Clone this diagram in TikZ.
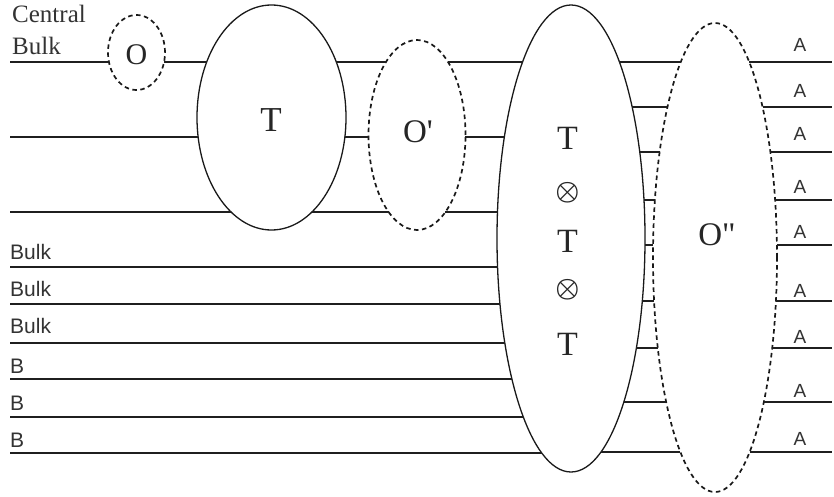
\documentclass[tikz,border=0pt]{standalone}
\usepackage{fontspec}
\setmainfont{Liberation Serif}[Ligatures=TeXOff]
\newfontfamily\labelsans{Liberation Sans}
\usetikzlibrary{shapes.geometric}
% ellipse parameters (pixel units, y downward)
\def\cxo{136.5}\def\cyo{52.5}\def\rxo{28.5}\def\ryo{37.5}
\def\cxt{271.5}\def\cyt{117.5}\def\rxt{74.5}\def\ryt{112.5}
\def\cxp{417}\def\cyp{135}\def\rxp{48.5}\def\ryp{95}
\def\cxm{571}\def\cym{238.5}\def\rxm{74}\def\rym{233.5}
\def\cxq{715}\def\cyq{257.5}\def\rxq{62}\def\ryq{234.5}
\newcommand\bxL[2]{(\csname cx#1\endcsname-\csname rx#1\endcsname*sqrt(1-((#2-\csname cy#1\endcsname)/\csname ry#1\endcsname)^2))}
\newcommand\bxR[2]{(\csname cx#1\endcsname+\csname rx#1\endcsname*sqrt(1-((#2-\csname cy#1\endcsname)/\csname ry#1\endcsname)^2))}
\tikzset{
  oval/.style={draw=black!90, ellipse, line width=1.3pt, inner sep=0pt, outer sep=0pt},
  dashoval/.style={oval, line width=1.7pt, dash pattern=on 4.5pt off 3.5pt},
  wire/.style={draw=black!88, line width=1.3pt},
  sanslab/.style={font=\labelsans\fontsize{21}{24}\selectfont, text=black!80, inner sep=0pt},
  seriflab/.style={font=\fontsize{25}{30}\selectfont, text=black!80, inner sep=0pt},
  biglab/.style={font=\fontsize{#1}{#1}\selectfont, text=black!85, inner sep=0pt},
  symlab/.style={font=\fontsize{10}{12}\selectfont, text=black!85, inner sep=0pt},
}
\begin{document}
\begin{tikzpicture}[x=1pt,y=-1pt]
\useasboundingbox (0,0) rectangle (834,497);
% ellipses
\node[dashoval, minimum width=57pt, minimum height=75pt] (O) at (\cxo,\cyo) {};
\node[oval, minimum width=149pt, minimum height=225pt] (T) at (\cxt,\cyt) {};
\node[dashoval, minimum width=97pt, minimum height=190pt] (Op) at (\cxp,\cyp) {};
\node[oval, minimum width=148pt, minimum height=467pt] (TTT) at (\cxm,\cym) {};
\node[dashoval, minimum width=124pt, minimum height=469pt] (Opp) at (\cxq,\cyq) {};
% ellipse texts
\node[biglab=30] (Otxt) at (136.5,55) {O};
\node[biglab=35] (Ttxt) at (271,120) {T};
\node[biglab=33] (Optxt) at (418,132) {O'};
\node[biglab=34] (m1) at (567.5,138.5) {T};
\node[symlab] (m2) at (567.5,193) {\scalebox{2.7}{\boldmath$\otimes$}};
\node[biglab=34] (m3) at (567.5,241) {T};
\node[symlab] (m4) at (567.5,290) {\scalebox{2.7}{\boldmath$\otimes$}};
\node[biglab=34] (m5) at (567.5,344) {T};
\node[biglab=33] (Opptxt) at (717,235) {O"};
% top line (y=62)
\coordinate (s1) at (10,62);
\coordinate (o1L) at ({\bxL{o}{62}},62);
\coordinate (o1R) at ({\bxR{o}{62}},62);
\draw[wire] (s1) -- (o1L);
\draw[wire] (o1R) -- ({\bxL{t}{62}},62) coordinate (t1L);
% lines through T and O'
\foreach \y [count=\i] in {62,137,212} {
  \coordinate (tL\i) at ({\bxL{t}{\y}},\y);
  \coordinate (tR\i) at ({\bxR{t}{\y}},\y);
  \coordinate (pL\i) at ({\bxL{p}{\y}},\y);
  \coordinate (pR\i) at ({\bxR{p}{\y}},\y);
  \coordinate (mL\i) at ({\bxL{m}{\y}},\y);
  \draw[wire] (tR\i) -- (pL\i);
  \draw[wire] (pR\i) -- (mL\i);
}
\coordinate (s2) at (10,137);
\coordinate (s3) at (10,212);
\draw[wire] (s2) -- (tL2);
\draw[wire] (s3) -- (tL3);
% bulk / B lines
\foreach \y [count=\i] in {267,304,343,379,417,453} {
  \coordinate (bs\i) at (10,\y);
  \coordinate (be\i) at ({\bxL{m}{\y}},\y);
  \draw[wire] (bs\i) -- (be\i);
}
% right side lines
\foreach \y [count=\i] in {62,107,152,200,245,301,348,402,452} {
  \coordinate (rm\i) at ({\bxR{m}{\y}},\y);
  \coordinate (rq\i) at ({\bxL{q}{\y}},\y);
  \coordinate (rqR\i) at ({\bxR{q}{\y}},\y);
  \coordinate (re\i) at (832,\y);
  \draw[wire] (rm\i) -- (rq\i);
  \draw[wire] (rqR\i) -- (re\i);
}
% left labels
\node[seriflab, anchor=base west] (cen) at (12,23) {Central};
\node[seriflab, anchor=base west] (cbulk) at (12,55) {Bulk};
\node[sanslab, anchor=base west] (bk1) at (10,259) {Bulk};
\node[sanslab, anchor=base west] (bk2) at (10,296) {Bulk};
\node[sanslab, anchor=base west] (bk3) at (10,333) {Bulk};
\node[sanslab, anchor=base west] (b1) at (10,373) {B};
\node[sanslab, anchor=base west] (b2) at (10,410) {B};
\node[sanslab, anchor=base west] (b3) at (10,447) {B};
% right labels
\foreach \yb [count=\i] in {52,98,141,193,238,297,343,397,445} {
  \node[sanslab, font=\labelsans\fontsize{19}{22}\selectfont, anchor=base] (A\i) at (800,\yb) {A};
}
\end{tikzpicture}
\end{document}
